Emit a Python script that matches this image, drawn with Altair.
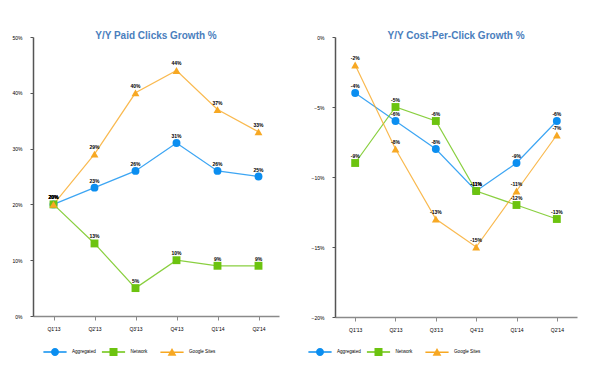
import altair as alt
import pandas as pd

quarters = ["Q1'13", "Q2'13", "Q3'13", "Q4'13", "Q1'14", "Q2'14"]
series_names = ["Aggregated", "Network", "Google Sites"]

clicks_aggregated = [20, 23, 26, 31, 26, 25]
clicks_network = [20, 13, 5, 10, 9, 9]
clicks_google = [20, 29, 40, 44, 37, 33]

cpc_aggregated = [-4, -6, -8, -11, -9, -6]
cpc_network = [-9, -5, -6, -11, -12, -13]
cpc_google = [-2, -8, -13, -15, -11, -7]

clicks_ticks = [0, 10, 20, 30, 40, 50]
cpc_ticks = [0, -5, -10, -15, -20]

series_colors = ["#0b8ef0", "#6cc30f", "#f7a823"]
series_shapes = ["circle", "square", "triangle-up"]

# legend glyphs: marker with a short line through it
_bar = "M-2.9,-0.18H2.9V0.18H-2.9Z "
legend_shapes = [
    _bar + "M1,0A1,1,0,1,1,-1,0A1,1,0,1,1,1,0Z",
    _bar + "M-1,-1H1V1H-1Z",
    _bar + "M0,-1.05L1.1,0.85H-1.1Z",
]

FONT = "Liberation Sans"


def frame(vals_list):
    rows = []
    for name, vals in zip(series_names, vals_list):
        for q, v in zip(quarters, vals):
            rows.append({"quarter": q, "series": name, "value": v / 100, "label": f"{v}%"})
    return pd.DataFrame(rows)


def panel(df, title, domain, ticks, w, h, legend_x, legend_y):
    x = alt.X("quarter:O", sort=quarters,
              scale=alt.Scale(type="point", padding=0.5),
              axis=alt.Axis(title=None, labelAngle=0, labelFontSize=5, labelFont=FONT,
                            labelColor="#000", domainColor="#8a8a8a", domainWidth=1.5,
                            tickColor="#8a8a8a", tickSize=4, labelPadding=6))
    y = alt.Y("value:Q", scale=alt.Scale(domain=domain, nice=False, zero=False),
              axis=alt.Axis(title=None, format=".0%", values=[t / 100 for t in ticks],
                            grid=False, labelFontSize=5, labelFont=FONT, labelColor="#000",
                            domainColor="#555555", domainWidth=1.5, tickColor="#555555",
                            tickSize=3, labelPadding=8))
    legend = alt.Legend(title=None, orient="none", legendX=legend_x, legendY=legend_y,
                        direction="horizontal", labelFontSize=4.6, labelFont=FONT,
                        labelColor="#000", symbolSize=64, labelOffset=12,
                        gridAlign="all", columnPadding=2.5, padding=0)
    color_plain = alt.Color("series:N", sort=series_names,
                            scale=alt.Scale(domain=series_names, range=series_colors),
                            legend=None)
    shape_plain = alt.Shape("series:N", sort=series_names,
                            scale=alt.Scale(domain=series_names, range=series_shapes),
                            legend=None)
    color_leg = alt.Color("series:N", sort=series_names,
                          scale=alt.Scale(domain=series_names, range=series_colors),
                          legend=legend)
    shape_leg = alt.Shape("series:N", sort=series_names,
                          scale=alt.Scale(domain=series_names, range=legend_shapes),
                          legend=legend)
    base = alt.Chart(df).encode(x=x, y=y)
    lines = base.mark_line(strokeWidth=1.2, opacity=0.8).encode(color=color_plain)
    points = base.mark_point(filled=True, size=62, opacity=1).encode(
        color=color_plain, shape=shape_plain)
    labels = base.mark_text(dy=-7, fontSize=5, fontWeight="bold", font=FONT,
                            color="black").encode(text="label:N")
    legend_layer = base.transform_filter("false").mark_point(
        filled=True, opacity=1).encode(color=color_leg, shape=shape_leg)
    return alt.layer(lines, points, labels, legend_layer).resolve_scale(
        color="independent", shape="independent"
    ).properties(
        width=w, height=h,
        title=alt.Title(title, fontSize=10, font=FONT, fontWeight="bold",
                        color="#4a7ebd", anchor="middle", offset=-6))


left = panel(frame([clicks_aggregated, clicks_network, clicks_google]),
             "Y/Y Paid Clicks Growth %", [0, 0.5], clicks_ticks, 246, 279, 17, 310)
right = panel(frame([cpc_aggregated, cpc_network, cpc_google]),
              "Y/Y Cost-Per-Click Growth %", [-0.2, 0], cpc_ticks, 242, 280, -20, 310)

chart = alt.hconcat(left, right, spacing=32).resolve_scale(
    color="independent", shape="independent", x="independent", y="independent"
).resolve_legend(color="independent", shape="independent").configure(
    padding={"left": 3, "top": 23, "right": 5, "bottom": 5},
    background="white"
).configure_view(stroke=None)

chart.save("out.html", embed_options={"renderer": "svg", "actions": False})
